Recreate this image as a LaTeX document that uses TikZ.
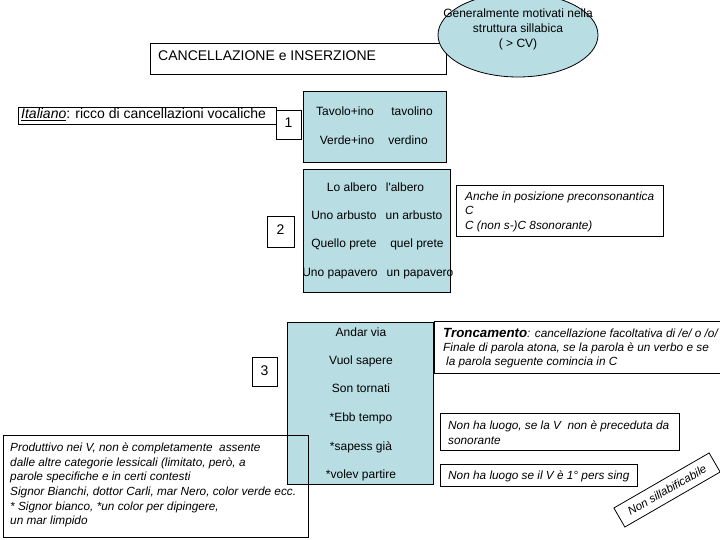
\documentclass[tikz,border=0pt]{standalone}
\usepackage{fontspec}
\setmainfont{Liberation Sans}
\usetikzlibrary{shapes.geometric,fit}
\definecolor{lblue}{RGB}{184,221,227}
\begin{document}
\begin{tikzpicture}[x=1pt,y=-1pt,
  frame/.style={draw=black, line width=0.8pt, inner sep=0pt},
  bluebox/.style={frame, fill=lblue},
  txt/.style={inner sep=0pt, text height=8.6pt, text depth=2.5pt, font=\fontsize{12}{14}\selectfont},
  bigtxt/.style={inner sep=0pt, text height=10pt, text depth=3pt, font=\fontsize{14}{16}\selectfont},
  itxt/.style={inner sep=0pt, font=\fontsize{11.8}{14}\selectfont\itshape, align=left, anchor=west},
]
\useasboundingbox (0,0) rectangle (720,540);
\clip (0,0) rectangle (720,540);

% title box and ellipse
\node[frame, fit={(150,43) (446,74)}] (canc) {};
\node[bigtxt, anchor=west] (canct) at (158,57.5) {CANCELLAZIONE e INSERZIONE};
\node[ellipse, bluebox, minimum width=160, minimum height=84] (ell) at (518,35) {};
\node[txt, align=center, text height=, text depth=, font=\fontsize{12}{15}\selectfont] (ellt) at (518,29.5) {Generalmente motivati nella\\struttura sillabica\\( > CV)};

% Italiano
\node[frame, fit={(18,107) (276,124)}] (ital) {};
\node[bigtxt, anchor=west] (italt) at (21,115.5) {\underline{\textit{Italiano}}: ricco di cancellazioni vocaliche};
\node[frame, fit={(276,110) (301,139)}] (one) {};
\node[bigtxt] (onet) at (288.5,124.5) {1};

% blue box 1
\node[bluebox, fit={(303,91) (446,162)}] (b1) {};
\node[txt] (t11) at (345,112) {Tavolo+ino};
\node[txt] (t12) at (412,112) {tavolino};
\node[txt] (t13) at (347,141) {Verde+ino};
\node[txt] (t14) at (408,141) {verdino};

% blue box 2
\node[bluebox, fit={(303,169) (450,292)}] (b2) {};
\node[txt] (t21) at (352,188) {Lo albero};
\node[txt] (t22) at (405,188) {l\textquotesingle albero};
\node[txt] (t23) at (344,216) {Uno arbusto};
\node[txt] (t24) at (414,216) {un arbusto};
\node[txt] (t25) at (344,244) {Quello prete};
\node[txt] (t26) at (417,244) {quel prete};
\node[txt] (t27) at (340,273) {Uno papavero};
\node[txt] (t28) at (420,273) {un papavero};
\node[frame, fit={(267,216) (294,247)}] (two) {};
\node[bigtxt] (twot) at (280.5,231.5) {2};

% Anche
\node[frame, fit={(456,185) (663,236)}] (anche) {};
\node[itxt, font=\fontsize{11.8}{14.5}\selectfont\itshape] (anchet) at (465,211.5) {Anche in posizione preconsonantica\\C\\C (non s-)C 8sonorante)};

% blue box 3
\node[bluebox, fit={(287,322) (433,484)}] (b3) {};
\node[txt] (t31) at (361,333) {Andar via};
\node[txt] (t32) at (361,361) {Vuol sapere};
\node[txt] (t33) at (361,389) {Son tornati};
\node[txt] (t34) at (361,418) {*Ebb tempo};
\node[txt] (t35) at (361,447) {*sapess già};
\node[txt] (t36) at (361,475) {*volev partire};
\node[frame, fit={(252,357) (277,386)}] (three) {};
\node[bigtxt] (threet) at (264.5,371.5) {3};

% Produttivo
\node[frame, fit={(3,435) (308,537)}] (prod) {};
\node[itxt, font=\fontsize{11.8}{14.6}\selectfont\itshape] (prodt) at (10,485) {Produttivo nei V, non è completamente\ \ assente\\dalle altre categorie lessicali (limitato, però, a\\parole specifiche e in certi contesti\\Signor Bianchi, dottor Carli, mar Nero, color verde ecc.\\* Signor bianco, *un color per dipingere,\\un mar limpido};

% Troncamento
\node[frame, fit={(434,321) (740,373)}] (tronc) {};
\node[itxt, font=\fontsize{11.8}{14}\selectfont\itshape] (tronct) at (443,348) {{\fontsize{13.3}{14}\selectfont\bfseries Troncamento}: cancellazione facoltativa di /e/ o /o/\\Finale di parola atona, se la parola è un verbo e se\\\hspace{3pt}la parola seguente comincia in C};

% Non ha luogo
\node[frame, fit={(440,413) (679,450)}] (nh1) {};
\node[itxt, font=\fontsize{11.8}{15}\selectfont\itshape] (nh1t) at (448,432.5) {Non ha luogo, se la V\ \ non è preceduta da\\sonorante};
\node[frame, fit={(440,464) (637,486)}] (nh2) {};
\node[itxt] (nh2t) at (448,476) {Non ha luogo se il V è 1° pers sing};

% Non sillabificabile
\node[frame, rotate=30, minimum width=110, minimum height=22, font=\fontsize{11.5}{12}\selectfont\itshape] (nons) at (667,490) {Non sillabificabile};
\end{tikzpicture}
\end{document}
